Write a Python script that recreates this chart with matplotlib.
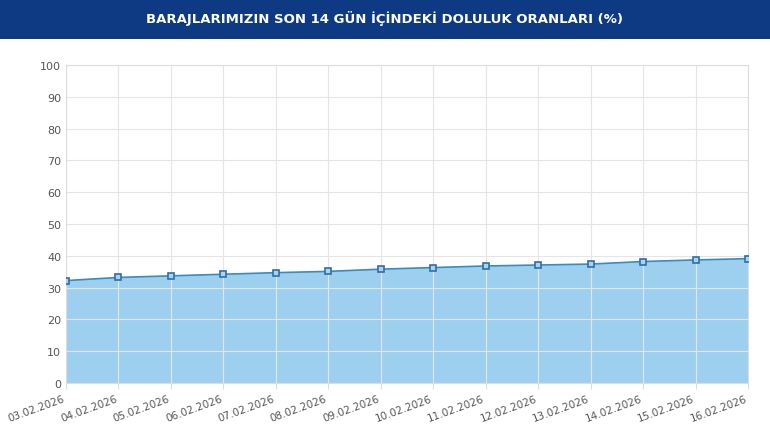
import matplotlib
matplotlib.use("Agg")
import matplotlib.pyplot as plt

dates = ["03.02.2026", "04.02.2026", "05.02.2026", "06.02.2026", "07.02.2026",
         "08.02.2026", "09.02.2026", "10.02.2026", "11.02.2026", "12.02.2026",
         "13.02.2026", "14.02.2026", "15.02.2026", "16.02.2026"]
fill_rates = [32.2, 33.2, 33.7, 34.2, 34.7, 35.1, 35.8, 36.3, 36.8, 37.1,
              37.4, 38.2, 38.7, 39.1]

W, H = 770, 431
fig = plt.figure(figsize=(W / 100, H / 100), dpi=100)

# title bar
bar = fig.add_axes([0, 1 - 40 / H, 1, 40 / H])
bar.set_facecolor("#0d3a82")
bar.set_xticks([]); bar.set_yticks([])
for s in bar.spines.values():
    s.set_visible(False)
bar.text(0.5, 0.55, "BARAJLARIMIZIN SON 14 GÜN İÇİNDEKİ DOLULUK ORANLARI (%)",
         ha="center", va="center", color="white", fontsize=9.5, weight="bold")

ax = fig.add_axes([66 / W, 1 - 384 / H, (748 - 66) / W, (384 - 66) / H])
x = list(range(len(dates)))
ax.fill_between(x, fill_rates, 0, color="#9dd0ee", zorder=1)
ax.plot(x, fill_rates, color="#3a8cc0", lw=1.2, marker="s", ms=5,
        mfc="#a8d4ef", mec="#2f6ea8", mew=1.2, zorder=3)
ax.set_xlim(0, len(dates) - 1)
ax.set_ylim(0, 100)
ax.set_yticks(range(0, 101, 10))
ax.set_xticks(x)
ax.set_xticklabels(dates, rotation=20, ha="right", fontsize=7.5, color="#555555")
ax.tick_params(axis="y", labelsize=8, labelcolor="#555555", length=0)
ax.tick_params(axis="x", length=4, color="#dddddd")
ax.grid(True, color="#e5e5e5", lw=0.8, zorder=0)
for s in ax.spines.values():
    s.set_color("#dddddd")

fig.savefig("out.png", dpi=100)
